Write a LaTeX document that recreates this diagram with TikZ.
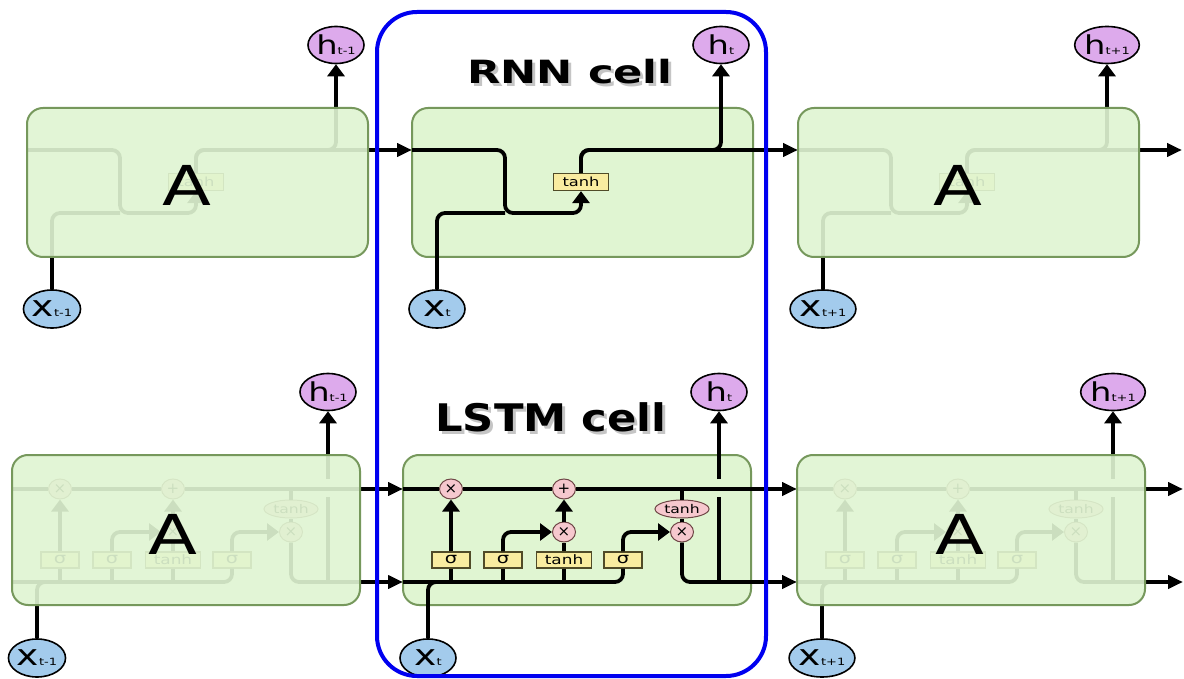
\documentclass[tikz,border=0pt]{standalone}
\usepackage{fontspec}
\usepackage{graphicx}
\setmainfont{DejaVu Sans}
\usetikzlibrary{arrows.meta,shapes.geometric,calc}
\pgfdeclarelayer{back}
\pgfdeclarelayer{front}
\pgfsetlayers{back,main,front}

\definecolor{boxfill}{RGB}{224,245,210}
\definecolor{boxedge}{RGB}{118,152,92}
\definecolor{hfill}{RGB}{221,170,236}
\definecolor{xfill}{RGB}{163,203,236}
\definecolor{opfill}{RGB}{246,200,206}
\definecolor{opedge}{RGB}{110,70,70}
\definecolor{layfill}{RGB}{249,236,160}
\definecolor{layedge}{RGB}{80,75,40}
\definecolor{cellblue}{RGB}{0,0,240}

\newcommand{\stretchx}[1]{\scalebox{1.3}[1]{#1}}
\newcommand{\hlab}[1]{\stretchx{\fontsize{26}{26}\selectfont h\fontsize{10}{10}\selectfont #1}}
\newcommand{\xlab}[1]{\stretchx{\fontsize{29}{29}\selectfont x\fontsize{10}{10}\selectfont #1}}

\tikzset{
  wire/.style={line width=3.8pt, rounded corners=8pt},
  arrowtip/.style={-{Triangle[length=12pt,width=17pt]}},
  bigtip/.style={-{Triangle[length=15pt,width=13pt]}},
  cellbox/.style={draw=boxedge, line width=2pt, fill=boxfill, rounded corners=16pt,
    anchor=north west, inner sep=0pt, outer sep=0pt},
  rnnsize/.style={minimum width=341pt, minimum height=149pt},
  lstmsize/.style={minimum width=348pt, minimum height=150pt},
  faint/.style={fill opacity=0.91},
  hnode/.style={ellipse, draw, line width=1.6pt, fill=hfill, minimum width=56pt,
    minimum height=37pt, inner sep=0pt},
  xnode/.style={ellipse, draw, line width=1.6pt, fill=xfill, minimum width=56pt,
    minimum height=38pt, inner sep=0pt},
  opnode/.style={ellipse, draw=opedge, line width=1pt, fill=opfill, minimum width=23pt,
    minimum height=20pt, inner sep=0pt, font=\fontsize{15}{15}\selectfont},
  laynode/.style={rectangle, draw=layedge, line width=1.2pt, fill=layfill,
    minimum width=38pt, minimum height=16pt, inner sep=0pt, font=\fontsize{15}{15}\selectfont},
  bigA/.style={font=\fontsize{55}{55}\selectfont, inner sep=0pt},
}

% RNN unit: #1 box left x, #2 prefix, #3 layer of box, #4 box style, #5 subscript
\newcommand{\rnnunit}[5]{%
  \begin{pgfonlayer}{#3}
    \node[cellbox, rnnsize, #4] (#2box) at (#1,108) {};
  \end{pgfonlayer}
  \node[laynode, minimum width=55pt, minimum height=17pt, font=\fontsize{12.5}{12.5}\selectfont]
    (#2tanh) at (#1+169,182) {\stretchx{tanh}};
  \node[hnode] (#2h) at (#1+309,45) {\hlab{#5}};
  \node[xnode] (#2x) at (#1+25,309) {\xlab{#5}};
  \coordinate (#2in) at (#1,150);
  \coordinate (#2out) at (#1+341,150);
  \coordinate (#2dn) at (#1+93,213);
  \draw[wire, arrowtip] (#2in) -| (#2dn) -| (#2tanh.south);
  \draw[wire] (#2x.north) |- (#2dn);
  \draw[wire, arrowtip] (#2tanh.north) |- (#2h.south |- #2out) -- (#2h.south);
  \draw[wire] (#2tanh.north) |- (#2out);
}

% LSTM unit
\newcommand{\lstmunit}[5]{%
  \begin{pgfonlayer}{#3}
    \node[cellbox, lstmsize, #4] (#2box) at (#1,455) {};
  \end{pgfonlayer}
  \node[opnode] (#2fx) at (#1+48,489) {×};
  \node[opnode] (#2add) at (#1+161,489) {+};
  \node[laynode] (#2sf) at (#1+48,560) {\stretchx{σ}};
  \node[laynode] (#2si) at (#1+100,560) {\stretchx{σ}};
  \node[laynode, minimum width=55pt, font=\fontsize{13}{13}\selectfont] (#2tt) at (#1+161,560) {\stretchx{tanh}};
  \node[laynode] (#2so) at (#1+220,560) {\stretchx{σ}};
  \node[opnode] (#2ix) at (#1+161,532) {×};
  \node[opnode, minimum width=54pt, minimum height=18pt, font=\fontsize{12}{12}\selectfont] (#2th) at (#1+279,509) {\stretchx{tanh}};
  \node[opnode] (#2ox) at (#1+279,532) {×};
  \node[hnode] (#2h) at (#1+316,392) {\hlab{#5}};
  \node[xnode] (#2x) at (#1+25,658) {\xlab{#5}};
  \coordinate (#2cin) at (#1,489);
  \coordinate (#2cout) at (#1+348,489);
  \coordinate (#2hin) at (#1,582);
  \coordinate (#2hout) at (#1+348,582);
  \coordinate (#2hb) at (#1+316,582);
  \coordinate (#2hm) at (#1+316,497);
  \coordinate (#2ht) at (#1+316,479);
  \coordinate (#2xj) at (#1+60,582);
  % cell state
  \draw[wire] (#2cin) -- (#2fx.west);
  \draw[wire] (#2fx.east) -- (#2add.west);
  \draw[wire] (#2add.east) -- (#2cout);
  % bottom line
  \draw[wire] (#2hin) -| (#2so.south);
  \draw[wire] (#2x.north) |- (#2xj);
  \draw[wire] (#2sf.south) -- (#2sf.south |- #2hin);
  \draw[wire] (#2si.south) -- (#2si.south |- #2hin);
  \draw[wire] (#2tt.south) -- (#2tt.south |- #2hin);
  % gates
  \draw[wire, arrowtip] (#2sf.north) -- (#2fx.south);
  \draw[wire, arrowtip] (#2si.north) |- (#2ix.west);
  \draw[wire] (#2tt.north) -- (#2ix.south);
  \draw[wire, arrowtip] (#2ix.north) -- (#2add.south);
  \draw[wire, arrowtip] (#2so.north) |- (#2ox.west);
  \draw[wire] (#2th.north) -- (#2th.north |- #2cin);
  \draw[wire] (#2th.south) -- (#2ox.north);
  \draw[wire] (#2ox.south) |- (#2hout);
  \draw[wire] (#2hb) -- (#2hm);
  \draw[wire, arrowtip] (#2ht) -- (#2h.south);
}

\begin{document}
\begin{tikzpicture}[x=1pt,y=-1pt]
\useasboundingbox (0,0) rectangle (1184,679);
\begin{pgfonlayer}{back}
  \fill[white] (0,0) rectangle (1184,679);
\end{pgfonlayer}

% ---------- RNN row ----------
\rnnunit{27}{RL}{front}{faint}{t-1}
\rnnunit{412}{RC}{back}{}{t}
\rnnunit{798}{RR}{front}{faint}{t+1}
\coordinate (RNNend) at (1182,150);
\draw[wire, bigtip] (RLout) -- (RCin);
\draw[wire, bigtip] (RCout) -- (RRin);
\draw[wire, bigtip] (RRout) -- (RNNend);

% ---------- LSTM row ----------
\lstmunit{12}{LL}{front}{faint}{t-1}
\lstmunit{403}{LC}{back}{}{t}
\lstmunit{797}{LR}{front}{faint}{t+1}
\coordinate (LSTMendc) at (1183,489);
\coordinate (LSTMendh) at (1183,582);
\draw[wire, bigtip] (LLcout) -- (LCcin);
\draw[wire, bigtip] (LLhout) -- (LChin);
\draw[wire, bigtip] (LCcout) -- (LRcin);
\draw[wire, bigtip] (LChout) -- (LRhin);
\draw[wire, bigtip] (LRcout) -- (LSTMendc);
\draw[wire, bigtip] (LRhout) -- (LSTMendh);

\begin{pgfonlayer}{front}
  \node[bigA] (RLA) at (187,185) {\stretchx{A}};
  \node[bigA] (RRA) at (958,185) {\stretchx{A}};
  \node[bigA] (LLA) at (173,534) {\stretchx{A}};
  \node[bigA] (LRA) at (960,534) {\stretchx{A}};
  % titles
  \node[font=\fontsize{32}{32}\selectfont\bfseries, text=black!45, opacity=0.5] (rnnshadow) at (573,75) {\scalebox{1.35}[1]{RNN cell}};
  \node[font=\fontsize{32}{32}\selectfont\bfseries] (rnntitle) at (570,72) {\scalebox{1.35}[1]{RNN cell}};
  \node[font=\fontsize{38}{38}\selectfont\bfseries, text=black!45, opacity=0.5] (lstmshadow) at (554,420) {\scalebox{1.14}[1]{LSTM cell}};
  \node[font=\fontsize{38}{38}\selectfont\bfseries] (lstmtitle) at (551,417) {\scalebox{1.14}[1]{LSTM cell}};
  % blue frame
  \node[draw=cellblue, line width=4pt, rounded corners=40pt, minimum width=389pt,
        minimum height=664pt, anchor=north west, inner sep=0pt, outer sep=0pt] (frame) at (377,12) {};
\end{pgfonlayer}
\end{tikzpicture}
\end{document}
